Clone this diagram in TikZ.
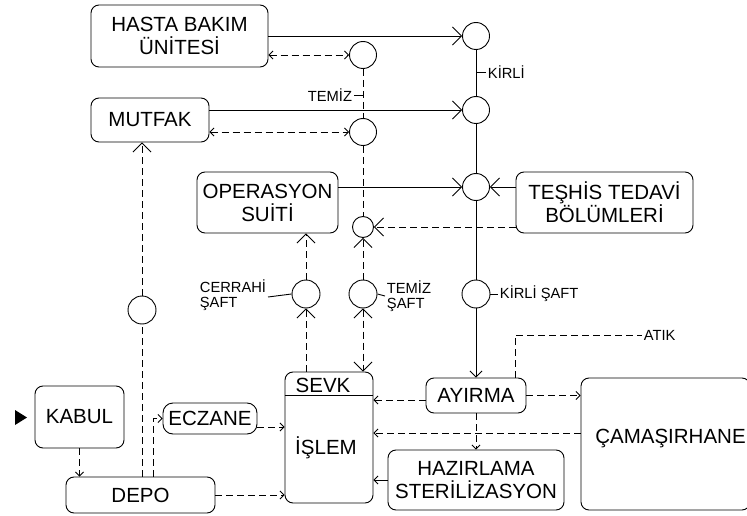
\documentclass[tikz,border=0pt]{standalone}
\usepackage{fontspec}
\setmainfont{Liberation Sans}
\usetikzlibrary{arrows.meta}

\begin{document}
\begin{tikzpicture}[x=1pt,y=-1pt,line width=0.9pt,
	box/.style={draw,rounded corners=8pt,align=center,inner sep=0pt,font=\fontsize{20.5}{23}\selectfont},
	circ/.style={circle,draw,minimum size=27pt,inner sep=0pt},
	lbl/.style={inner sep=1.5pt,align=left,font=\fontsize{14.7}{14.5}\selectfont},
	dsh/.style={dash pattern=on 7pt off 4pt},
	tipbig/.style={-{Straight Barb[length=9pt,width=18pt]}},
	tipbigboth/.style={{Straight Barb[length=9pt,width=18pt]}-{Straight Barb[length=9pt,width=18pt]}},
	tipsmall/.style={-{Straight Barb[length=4pt,width=8pt]}},
	tipsmallboth/.style={{Straight Barb[length=4pt,width=8pt]}-{Straight Barb[length=4pt,width=8pt]}}]
			
			\useasboundingbox (0,0) rectangle (747,516);
			
			% boxes
			\node[box,minimum width=177,minimum height=62] (hasta) at (179.5,36) {HASTA BAKIM\\ÜNİTESİ};
			\node[box,minimum width=118,minimum height=44] (mutfak) at (150,120) {MUTFAK};
			\node[box,minimum width=141,minimum height=61] (opers) at (267.5,202.5) {OPERASYON\\SUİTİ};
			\node[box,minimum width=177,minimum height=61] (teshis) at (604.5,202.5) {TEŞHİS TEDAVİ\\BÖLÜMLERİ};
			\node[box,minimum width=89,minimum height=62] (kabul) at (79.5,417) {KABUL};
			\node[box,minimum width=149,minimum height=36] (depo) at (140.5,495) {DEPO};
			\node[box,rounded corners=10pt,minimum width=94,minimum height=31] (eczane) at (210,418.5) {ECZANE};
			\node[box,minimum width=88,minimum height=131] (islem) at (329,437.5) {};
			\node[box,minimum width=100,minimum height=35] (ayirma) at (476,395.5) {AYIRMA};
			\node[box,minimum width=176,minimum height=60] (hazirlama) at (476,480) {HAZIRLAMA\\STERİLİZASYON};
			\node[box,minimum width=169,minimum height=132] (camasir) at (665.5,444) {};
			
			\node[box,draw=none] (sevk) at (323,385) {SEVK};
			\node[box,draw=none] (islemtxt) at (326,448) {İŞLEM};
			\node[box,draw=none] (camasirtxt) at (670.5,439) {ÇAMAŞIRHANE};
			\draw ([yshift=-24pt]islem.north west) -- ([yshift=-24pt]islem.north east);
			
			\fill (15,410) -- (27,417.5) -- (15,425) -- cycle;
			
			% shafts
			\node[circ] (t1) at (363,55) {};
			\node[circ] (t2) at (363,132) {};
			\node[circ,minimum size=21pt] (t3) at (363,227) {};
			\node[circ,minimum size=28pt] (tsaft) at (363,294) {};
			\node[circ,minimum size=28pt] (csaft) at (306,294) {};
			\node[circ] (k1) at (476,36) {};
			\node[circ] (k2) at (476,110) {};
			\node[circ] (k3) at (476,187) {};
			\node[circ,minimum size=28pt] (ksaft) at (476,294) {};
			\node[circ,minimum size=28pt] (dm) at (142,310) {};
			
			\node[lbl,anchor=east] (temiz) at (354,95) {TEMİZ};
			\node[lbl,anchor=west] (kirli) at (486,72) {KİRLİ};
			\node[lbl,anchor=west] (tsaftlbl) at (385,296) {TEMİZ\\ŞAFT};
			\node[lbl,anchor=east] (csaftlbl) at (268,295) {CERRAHİ\\ŞAFT};
			\node[lbl,anchor=west] (ksaftlbl) at (498,294) {KİRLİ ŞAFT};
			\node[lbl,anchor=west] (atik) at (642,335) {ATIK};
			
			\draw (temiz.east) -- (temiz.east -| t1);
			\draw (kirli.west) -- (kirli.west -| k1);
			\draw (tsaft.east) -- (tsaftlbl.west);
			\draw ([yshift=-2pt]csaftlbl.east) -- (csaft.west);
			\draw (ksaft.east) -- (ksaftlbl.west);
			
			% kirli
			\draw[tipbig] (hasta.east |- k1) -- (k1);
			\draw[tipbig] (mutfak.east |- k2) -- (k2);
			\draw[tipbig] (opers.east |- k3) -- (k3);
			\draw[tipbig] (teshis.west |- k3) -- (k3);
			\draw (k1) -- (k2) -- (k3) -- (ksaft);
			\draw[-{Straight Barb[length=6pt,width=12pt]}] (ksaft) -- (ayirma.north);
			
			% temiz
			\draw[dsh,tipsmallboth] (hasta.east |- t1) -- (t1);
			\draw[dsh,tipsmallboth] (mutfak.east |- t2) -- (t2);
			\draw[dsh] (t1) -- (t2) -- (t3);
			\draw[dsh,tipbig] (teshis.west |- t3) -- (t3);
			\draw[dsh,tipbig] (tsaft) -- (t3);
			\draw[dsh,tipbigboth] (tsaft) -- (tsaft |- islem.north);
			\draw[dsh,tipbig] (csaft |- islem.north) -- (csaft);
			\draw[dsh,tipbig] (csaft) -- (csaft |- opers.south);
			
			% depo
			\draw[dsh] (dm |- depo.north) -- (dm);
			\draw[dsh,tipbig] (dm) -- (dm |- mutfak.south);
			\draw[dsh,tipsmall] ([xshift=12.5pt]depo.north) |- (eczane.west);
			\draw[dsh,tipsmall] (kabul.south) -- (kabul.south |- depo.north);
			\draw[dsh,tipsmall] ([yshift=-8.5pt]eczane.east) -- ([yshift=-8.5pt]eczane.east -| islem.west);
			\draw[dsh,tipsmall] (depo.east) -- (depo.east -| islem.west);
			
			% ayirma
			\draw[dsh,tipsmall] ([yshift=-4.5pt]ayirma.west) -- ([yshift=-4.5pt]ayirma.west -| islem.east);
			\draw[dsh,tipsmall] (ayirma.east) -- (ayirma.east -| camasir.west);
			\draw[dsh,tipsmall] ([yshift=11pt]camasir.west) -- ([yshift=11pt]camasir.west -| islem.east);
			\draw[tipsmall] (hazirlama.west) -- (hazirlama.west -| islem.east);
			\draw[dsh,tipsmall] (ayirma.south) -- (hazirlama.north);
			\draw[dsh] ([xshift=39pt]ayirma.north) |- (atik.west);
			
		\end{tikzpicture}
\end{document}
